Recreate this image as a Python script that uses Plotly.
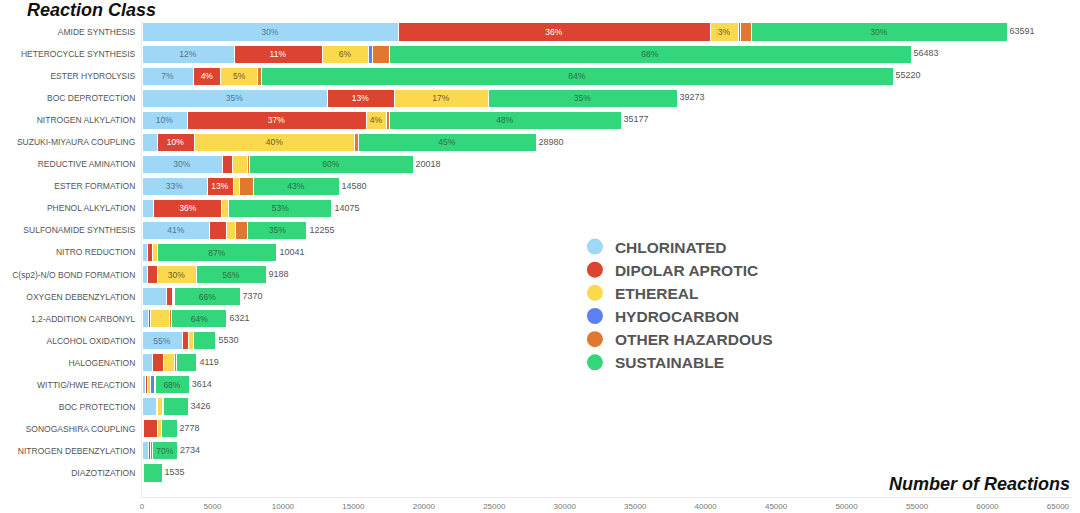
import plotly.graph_objects as go

categories = [
    "AMIDE SYNTHESIS", "HETEROCYCLE SYNTHESIS", "ESTER HYDROLYSIS", "BOC DEPROTECTION",
    "NITROGEN ALKYLATION", "SUZUKI-MIYAURA COUPLING", "REDUCTIVE AMINATION", "ESTER FORMATION",
    "PHENOL ALKYLATION", "SULFONAMIDE SYNTHESIS", "NITRO REDUCTION", "C(sp2)-N/O BOND FORMATION",
    "OXYGEN DEBENZYLATION", "1,2-ADDITION CARBONYL", "ALCOHOL OXIDATION", "HALOGENATION",
    "WITTIG/HWE REACTION", "BOC PROTECTION", "SONOGASHIRA COUPLING", "NITROGEN DEBENZYLATION",
    "DIAZOTIZATION",
]

# segment lengths (number of reactions)
chlorinated = [18170, 6530, 3620, 13130, 3195, 1065, 5680, 4615, 850, 4825, 355, 355,
               1705, 495, 2840, 780, 215, 995, 140, 495, 0]
dipolar_aprotic = [22140, 6245, 1985, 4755, 12705, 2625, 710, 1845, 4825, 1205, 425, 710,
                   425, 140, 425, 710, 180, 140, 925, 105, 0]
ethereal = [1990, 3265, 2625, 6670, 1420, 11425, 1065, 425, 495, 640, 285, 2770,
            140, 1350, 355, 850, 215, 285, 285, 35, 70]
hydrocarbon = [140, 285, 0, 0, 0, 0, 0, 0, 0, 0, 0, 0,
               0, 0, 0, 0, 285, 0, 0, 0, 0]
other_hazardous = [780, 1205, 215, 0, 215, 215, 140, 995, 0, 850, 0, 0,
                   70, 140, 0, 140, 35, 70, 0, 105, 70]
sustainable = [18170, 37045, 44855, 13415, 16465, 12635, 11640, 6105, 7310, 4185, 8515, 4970,
               4615, 3905, 1630, 1420, 2415, 1775, 1135, 1775, 1280]

totals = ["63591", "56483", "55220", "39273", "35177", "28980", "20018", "14580", "14075",
          "12255", "10041", "9188", "7370", "6321", "5530", "4119", "3614", "3426", "2778",
          "2734", "1535"]

# percentage labels printed inside segments
chl_text = ["30%", "12%", "7%", "35%", "10%", "", "30%", "33%", "", "41%", "", "",
            "", "", "55%", "", "", "", "", "", ""]
dip_text = ["36%", "11%", "4%", "13%", "37%", "10%", "", "13%", "36%", "", "", "",
            "", "", "", "", "", "", "", "", ""]
eth_text = ["3%", "6%", "5%", "17%", "4%", "40%", "", "", "", "", "", "30%",
            "", "", "", "", "", "", "", "", ""]
sus_text = ["30%", "68%", "84%", "35%", "48%", "45%", "60%", "43%", "53%", "35%", "87%", "56%",
            "66%", "64%", "", "", "68%", "", "", "70%", ""]
empty_text = [""] * len(categories)

series = [
    ("CHLORINATED", chlorinated, chl_text, "#9fd8f6", "#4f7590"),
    ("DIPOLAR APROTIC", dipolar_aprotic, dip_text, "#dc4431", "#ffffff"),
    ("ETHEREAL", ethereal, eth_text, "#fbd94f", "#6b5c2a"),
    ("HYDROCARBON", hydrocarbon, empty_text, "#5c80ee", "#ffffff"),
    ("OTHER HAZARDOUS", other_hazardous, empty_text, "#e07830", "#ffffff"),
    ("SUSTAINABLE", sustainable, sus_text, "#34d67b", "#2c6e46"),
]

fig = go.Figure()
for name, vals, txt, col, tcol in series:
    fig.add_trace(go.Bar(
        y=categories, x=vals, orientation="h", name=name,
        marker=dict(color=col, line=dict(color="white", width=1)),
        text=txt, textposition="inside", insidetextanchor="middle", textangle=0,
        insidetextfont=dict(family="Liberation Sans, Arial", size=8.5, color=tcol),
        showlegend=False, hoverinfo="skip",
    ))

# total labels at the end of each bar
bar_ends = [sum(v) for v in zip(chlorinated, dipolar_aprotic, ethereal, hydrocarbon,
                                other_hazardous, sustainable)]
fig.add_trace(go.Scatter(
    x=bar_ends, y=categories, mode="text", text=[" " + t for t in totals],
    textposition="middle right",
    textfont=dict(family="Liberation Sans, Arial", size=9, color="#555555"),
    showlegend=False, hoverinfo="skip", cliponaxis=False,
))

# legend entries with circular markers
for name, vals, txt, col, tcol in series:
    fig.add_trace(go.Scatter(
        x=[None], y=[None], mode="markers", name=name,
        marker=dict(symbol="circle", size=16, color=col),
        showlegend=True,
    ))

n = len(categories)
fig.update_layout(
    width=1080, height=513,
    margin=dict(l=142, r=8, t=21, b=16),
    barmode="stack", bargap=0.18,
    plot_bgcolor="white", paper_bgcolor="white",
    font=dict(family="Liberation Sans, Arial", color="#555555"),
    xaxis=dict(range=[0, 66000], tickvals=list(range(0, 65001, 5000)), tickformat="d",
               showgrid=False, zeroline=False, showline=True, linecolor="#ececec",
               tickfont=dict(size=8, color="#777777"), ticks="", ticklabelstandoff=1,
               automargin=False, fixedrange=True),
    yaxis=dict(type="category", categoryorder="array", categoryarray=categories,
               range=[n - 1 + 1.09, -0.5], showgrid=False, zeroline=False,
               showline=True, linecolor="#ececec", automargin=False,
               tickfont=dict(size=8.5, color="#555555"), ticks="", ticklabelstandoff=4),
    legend=dict(x=0.4655, y=0.561, xanchor="left", yanchor="top", traceorder="normal",
                font=dict(family="Liberation Sans, Arial", size=15.5, color="#555555",
                          weight="bold"),
                bgcolor="rgba(0,0,0,0)", itemsizing="trace", itemwidth=30),
    annotations=[
        dict(text="<b><i>Reaction Class</i></b>", xref="paper", yref="paper",
             x=-0.1255, y=1.0, xanchor="left", yanchor="bottom", showarrow=False,
             font=dict(family="Liberation Sans, Arial", size=18, color="#111111"), yshift=-1),
        dict(text="<b><i>Number of Reactions</i></b>", xref="paper", yref="paper",
             x=1.0, y=0.0, xanchor="right", yanchor="bottom", showarrow=False,
             font=dict(family="Liberation Sans, Arial", size=18, color="#111111"), yshift=1),
    ],
)

fig.write_html("out.html")
